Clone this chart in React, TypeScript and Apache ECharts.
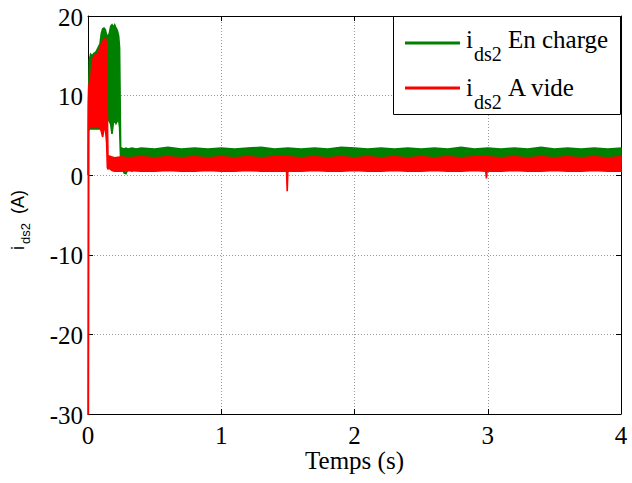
import React, { useEffect, useRef } from "react";
import * as echarts from "echarts";

// ---- data ----
const xTicks = [0, 1, 2, 3, 4];
const yTicks = [-30, -20, -10, 0, 10, 20];

// i_ds2 En charge (green): time, upper envelope, lower envelope
const greenT = [0, 0.002, 0.01, 0.02, 0.03, 0.045, 0.06, 0.075, 0.09, 0.1, 0.11, 0.12, 0.13, 0.14, 0.15, 0.16, 0.17, 0.18, 0.19, 0.2, 0.21, 0.22, 0.23, 0.237, 0.245, 0.255, 0.27, 0.285, 0.3, 0.33, 0.36, 0.4, 0.5, 0.6, 0.7, 0.8, 0.9, 1.0, 1.1, 1.2, 1.3, 1.4, 1.5, 1.6, 1.7, 1.8, 1.9, 2.0, 2.1, 2.2, 2.3, 2.4, 2.5, 2.6, 2.7, 2.8, 2.9, 3.0, 3.1, 3.2, 3.3, 3.4, 3.5, 3.6, 3.7, 3.8, 3.9, 4.0];
const greenHi = [0, 9, 14.5, 15.2, 15.0, 15.3, 15.5, 16.0, 16.5, 17.8, 18.4, 18.5, 18.3, 17.6, 17.5, 17.8, 18.7, 18.9, 18.6, 18.9, 18.5, 18.2, 17.5, 16.0, 3.5, 3.4, 3.3, 3.4, 3.3, 3.4, 3.3, 3.4, 3.3, 3.5, 3.3, 3.4, 3.3, 3.4, 3.3, 3.4, 3.5, 3.3, 3.4, 3.3, 3.4, 3.3, 3.5, 3.4, 3.3, 3.4, 3.3, 3.4, 3.3, 3.4, 3.3, 3.5, 3.3, 3.4, 3.3, 3.4, 3.3, 3.5, 3.3, 3.4, 3.3, 3.4, 3.3, 3.4];
const greenLo = [0, 5.5, 5.8, 5.8, 5.8, 5.8, 5.8, 5.8, 5.8, 5.8, 5.5, 5.8, 6.0, 6.5, 7.0, 6.8, 6.4, 5.2, 6.5, 7.0, 6.5, 6.8, 7.0, 6.0, 1.8, 1.5, 0.3, 0.2, 0.8, 0.5, 1.2, 1.5, 1.5, 1.5, 1.5, 1.5, 1.5, 1.5, 1.5, 1.5, 1.5, 1.5, 1.5, 1.5, 1.5, 1.5, 1.5, 1.5, 1.5, 1.5, 1.5, 1.5, 1.5, 1.5, 1.5, 1.5, 1.5, 1.5, 1.5, 1.5, 1.5, 1.5, 1.5, 1.5, 1.5, 1.5, 1.5, 1.5];

// i_ds2 A vide (red): time, upper envelope, lower envelope
const redT = [0, 0.003, 0.006, 0.01, 0.02, 0.03, 0.045, 0.06, 0.075, 0.09, 0.1, 0.11, 0.12, 0.13, 0.14, 0.145, 0.15, 0.16, 0.18, 0.2, 0.25, 0.3, 0.4, 0.5, 0.6, 0.7, 0.8, 0.9, 1.0, 1.1, 1.2, 1.3, 1.4, 1.49, 1.495, 1.5, 1.6, 1.7, 1.8, 1.9, 2.0, 2.1, 2.2, 2.3, 2.4, 2.5, 2.6, 2.7, 2.8, 2.9, 2.985, 2.99, 2.995, 3.1, 3.2, 3.3, 3.4, 3.5, 3.6, 3.7, 3.8, 3.9, 4.0];
const redHi = [-30, 6, 11.0, 11.6, 11.9, 14.3, 15.0, 15.2, 15.3, 16.0, 16.5, 16.8, 16.6, 17.3, 16.5, 8.0, 2.4, 2.4, 2.3, 2.2, 2.3, 2.2, 2.3, 2.2, 2.3, 2.2, 2.3, 2.2, 2.3, 2.2, 2.3, 2.2, 2.3, 2.3, 2.3, 2.3, 2.2, 2.3, 2.2, 2.3, 2.2, 2.3, 2.2, 2.3, 2.2, 2.3, 2.2, 2.3, 2.2, 2.3, 2.3, 2.3, 2.3, 2.2, 2.3, 2.2, 2.3, 2.2, 2.3, 2.2, 2.3, 2.2, 2.3];
const redLo = [-30, -30, 6.0, 6.2, 6.0, 6.0, 6.0, 6.1, 6.0, 6.0, 5.5, 4.8, 5.8, 6.0, 4.0, 1.0, 0.8, 0.9, 0.6, 0.5, 0.5, 0.6, 0.5, 0.5, 0.6, 0.5, 0.5, 0.6, 0.5, 0.5, 0.6, 0.5, 0.5, 0.5, -2.0, 0.5, 0.5, 0.6, 0.5, 0.5, 0.6, 0.5, 0.5, 0.6, 0.5, 0.5, 0.6, 0.5, 0.5, 0.6, 0.5, -0.4, 0.5, 0.5, 0.6, 0.5, 0.5, 0.6, 0.5, 0.5, 0.6, 0.5, 0.5];

const GREEN = "#008000";
const RED = "#ff0000";
const SERIF = "Liberation Serif";
const SANS = "Liberation Sans";

function bandSeries(name: string, t: number[], hi: number[], lo: number[], color: string, z: number) {
  const rows = t.map((v, i) => [v, hi[i], lo[i]]);
  return {
    name,
    type: "custom",
    coordinateSystem: "cartesian2d",
    z,
    data: rows,
    encode: { x: 0, y: [1, 2] },
    renderItem: (params: any, api: any) => {
      if (params.dataIndex !== 0) return null;
      const upper = rows.map((r) => api.coord([r[0], r[1]]));
      const lower = rows.map((r) => api.coord([r[0], r[2]])).reverse();
      return {
        type: "polygon",
        shape: { points: upper.concat(lower) },
        style: { fill: color, stroke: color, lineWidth: 1.6, lineJoin: "miter" },
      };
    },
  };
}

// tick labels drawn in serif through the axes' own scales
function xLabelSeries() {
  return {
    type: "custom",
    coordinateSystem: "cartesian2d",
    silent: true,
    clip: false,
    z: 5,
    data: xTicks.map((v) => [v, yTicks[0]]),
    encode: { x: 0, y: 1 },
    renderItem: (params: any, api: any) => {
      const p = api.coord([api.value(0), api.value(1)]);
      return {
        type: "text",
        x: p[0],
        y: p[1] + 21,
        style: { text: String(api.value(0)), fontFamily: SERIF, fontSize: 25, fill: "#000", align: "center", verticalAlign: "middle" },
      };
    },
  };
}
function yLabelSeries() {
  return {
    type: "custom",
    coordinateSystem: "cartesian2d",
    silent: true,
    clip: false,
    z: 5,
    data: yTicks.map((v) => [xTicks[0], v]),
    encode: { x: 0, y: 1 },
    renderItem: (params: any, api: any) => {
      const p = api.coord([api.value(0), api.value(1)]);
      return {
        type: "text",
        x: p[0] - 5,
        y: p[1] + 1,
        style: { text: String(api.value(1)), fontFamily: SERIF, fontSize: 25, fill: "#000", align: "right", verticalAlign: "middle" },
      };
    },
  };
}

export default function App() {
  const ref = useRef<HTMLDivElement>(null);
  useEffect(() => {
    if (!ref.current) return;
    const chart = echarts.init(ref.current, undefined, { renderer: "svg" });
    const axisLine = { show: true, onZero: false, lineStyle: { color: "#000", width: 1 } };
    const axisTick = { show: true, inside: true, length: 5, lineStyle: { color: "#000", width: 1 } };
    const grid = { left: 88, right: 11, top: 16, bottom: 69, containLabel: false };
    const split = { show: true, lineStyle: { color: "#9a9a9a", type: [1, 2] as any, width: 1 } };
    const option: any = {
      animation: false,
      backgroundColor: "#fff",
      textStyle: { fontFamily: SERIF },
      grid,
      xAxis: [
        {
          type: "value",
          min: xTicks[0],
          max: xTicks[xTicks.length - 1],
          interval: 1,
          position: "bottom",
          axisLine,
          axisTick,
          splitLine: split,
          axisLabel: { show: false },
          name: "Temps (s)",
          nameLocation: "middle",
          nameGap: 34,
          nameTextStyle: { color: "#000", fontFamily: SERIF, fontSize: 25 },
        },
        {
          type: "value",
          min: xTicks[0],
          max: xTicks[xTicks.length - 1],
          interval: 1,
          position: "top",
          axisLine,
          axisTick,
          splitLine: { show: false },
          axisLabel: { show: false },
        },
      ],
      yAxis: [
        {
          type: "value",
          min: yTicks[0],
          max: yTicks[yTicks.length - 1],
          interval: 10,
          position: "left",
          axisLine,
          axisTick,
          splitLine: split,
          axisLabel: { show: false },
        },
        {
          type: "value",
          min: yTicks[0],
          max: yTicks[yTicks.length - 1],
          interval: 10,
          position: "right",
          axisLine,
          axisTick,
          splitLine: { show: false },
          axisLabel: { show: false },
        },
      ],
      series: [
        bandSeries("ids2 En charge", greenT, greenHi, greenLo, GREEN, 2),
        bandSeries("ids2 A vide", redT, redHi, redLo, RED, 3),
        xLabelSeries(),
        yLabelSeries(),
      ],
      graphic: [
        // y axis name (rotated)
        { type: "text", x: 18, y: 250, rotation: Math.PI / 2, z: 10, style: { text: "i", fontFamily: SANS, fontSize: 18, fill: "#000", align: "left", verticalAlign: "middle" } },
        { type: "text", x: 25, y: 244, rotation: Math.PI / 2, z: 10, style: { text: "ds2", fontFamily: SANS, fontSize: 13, fill: "#000", align: "left", verticalAlign: "middle" } },
        { type: "text", x: 18, y: 214, rotation: Math.PI / 2, z: 10, style: { text: "(A)", fontFamily: SANS, fontSize: 18, fill: "#000", align: "left", verticalAlign: "middle" } },
        // legend
        { type: "rect", z: 20, shape: { x: 393.5, y: 16.5, width: 227, height: 98 }, style: { fill: "#fff", stroke: "#000", lineWidth: 1 } },
        { type: "line", z: 21, shape: { x1: 405, y1: 43, x2: 460, y2: 43 }, style: { stroke: GREEN, lineWidth: 3 } },
        { type: "line", z: 21, shape: { x1: 405, y1: 88, x2: 460, y2: 88 }, style: { stroke: RED, lineWidth: 3 } },
        { type: "text", z: 21, x: 466, y: 39, style: { text: "i", fontFamily: SERIF, fontSize: 25, fill: "#000", align: "left", verticalAlign: "middle" } },
        { type: "text", z: 21, x: 474, y: 54, style: { text: "ds2", fontFamily: SERIF, fontSize: 20, fill: "#000", align: "left", verticalAlign: "middle" } },
        { type: "text", z: 21, x: 508, y: 39, style: { text: "En charge", fontFamily: SERIF, fontSize: 25, fill: "#000", align: "left", verticalAlign: "middle" } },
        { type: "text", z: 21, x: 466, y: 87.5, style: { text: "i", fontFamily: SERIF, fontSize: 25, fill: "#000", align: "left", verticalAlign: "middle" } },
        { type: "text", z: 21, x: 474, y: 102, style: { text: "ds2", fontFamily: SERIF, fontSize: 20, fill: "#000", align: "left", verticalAlign: "middle" } },
        { type: "text", z: 21, x: 508, y: 87.5, style: { text: "A vide", fontFamily: SERIF, fontSize: 25, fill: "#000", align: "left", verticalAlign: "middle" } },
      ],
    };
    chart.setOption(option);
    return () => chart.dispose();
  }, []);
  return (
    <div
      ref={ref}
      style={{ position: "fixed", left: 0, top: 0, width: 632, height: 483, background: "#fff" }}
    />
  );
}
